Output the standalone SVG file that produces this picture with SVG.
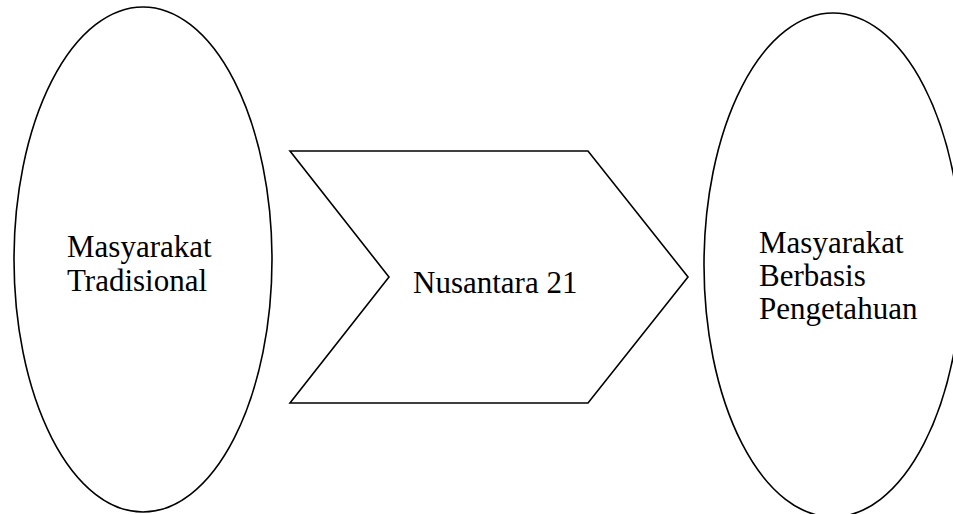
<svg xmlns="http://www.w3.org/2000/svg" width="953" height="514" viewBox="0 0 953 514">
<style>
.s{fill:#fff;stroke:#000;stroke-width:1.6}
.t{font-family:"Liberation Serif","Times New Roman",serif;font-size:31px;fill:#000}
</style>
<rect width="953" height="514" fill="#fff"/>
<g id="left">
<ellipse class="s" cx="143" cy="259.5" rx="129" ry="252.5"/>
<text class="t" x="67"><tspan x="67" y="257">Masyarakat</tspan><tspan x="67" y="291">Tradisional</tspan></text>
</g>
<g id="middle">
<polygon class="s" points="290,151 588,151 688,277 588,403 290,403 389,277"/>
<text class="t" x="413" y="293">Nusantara 21</text>
</g>
<g id="right">
<ellipse class="s" cx="833" cy="265" rx="129" ry="252"/>
<text class="t"><tspan x="759" y="253">Masyarakat</tspan><tspan x="759" y="286">Berbasis</tspan><tspan x="759" y="319">Pengetahuan</tspan></text>
</g>
<g id="connectors"></g>
</svg>
